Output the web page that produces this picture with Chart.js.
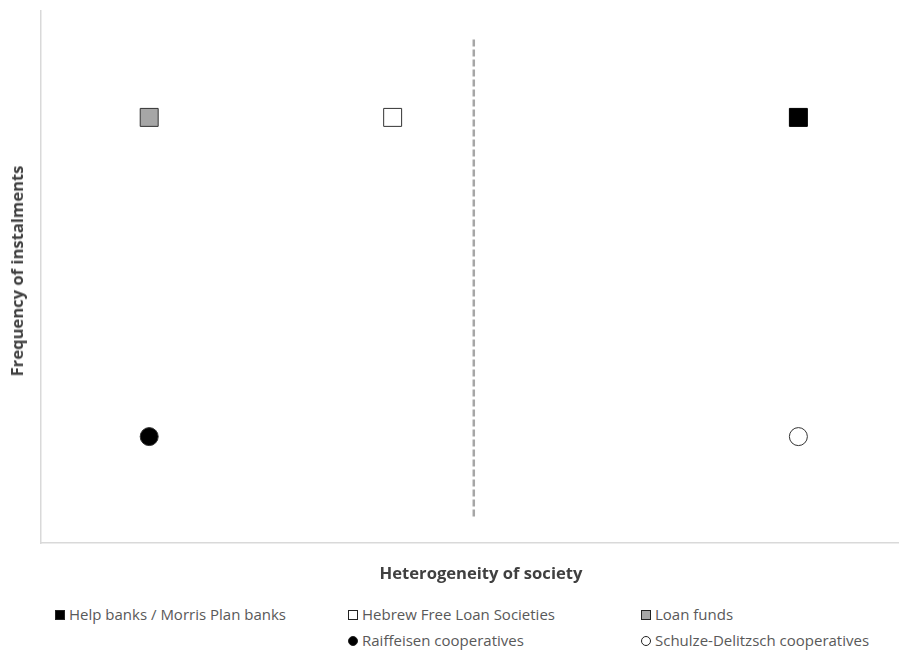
<!DOCTYPE html>
<html>
<head>
<meta charset="utf-8">
<script src="https://cdn.jsdelivr.net/npm/chart.js@4.4.1/dist/chart.umd.min.js"></script>
<style>
  html, body { margin: 0; padding: 0; background: #fff; }
  #wrap { position: relative; width: 899px; height: 651px; font-family: "Open Sans", sans-serif; color: #595959; }
  #chart { position: absolute; left: 0; top: 0; width: 899px; height: 590px; }
  .ttl { position: absolute; font-size: 16.6px; font-weight: bold; line-height: 20px; color: #404040; white-space: nowrap; }
  .lg { position: absolute; font-size: 15px; line-height: 18px; white-space: nowrap; }
  .mk { display: inline-block; width: 10px; height: 10px; margin-right: 4px; vertical-align: 0px; box-sizing: border-box; border: 1px solid #222; }
</style>
</head>
<body>
<div id="wrap">
  <div id="chart"><canvas id="c"></canvas></div>
  <div class="ttl" id="xt" style="left:481px; top:563px; transform: translateX(-50%);">Heterogeneity of society</div>
  <div class="ttl" id="yt" style="left:16.5px; top:271px; transform: translate(-50%,-50%) rotate(-90deg);">Frequency of instalments</div>
  <div class="lg" style="left:55px; top:605px;"><span class="mk" style="background:#000"></span>Help banks / Morris Plan banks</div>
  <div class="lg" style="left:348px; top:605px;"><span class="mk" style="background:#fff"></span>Hebrew Free Loan Societies</div>
  <div class="lg" style="left:641px; top:605px;"><span class="mk" style="background:#a6a6a6"></span>Loan funds</div>
  <div class="lg" style="left:348px; top:631px;"><span class="mk" style="background:#000;border-radius:50%"></span>Raiffeisen cooperatives</div>
  <div class="lg" style="left:641px; top:631px;"><span class="mk" style="background:#fff;border-radius:50%"></span>Schulze-Delitzsch cooperatives</div>
</div>
<script>
// categories and positions (arbitrary units, no ticks shown)
const seriesNames = ['Help banks / Morris Plan banks', 'Hebrew Free Loan Societies', 'Loan funds',
                     'Raiffeisen cooperatives', 'Schulze-Delitzsch cooperatives'];
const heterogeneity = [7, 3.25, 1, 1, 7];
const frequency = [8, 8, 8, 2, 2];
const dividerX = [4, 4];
const dividerY = [0.5, 9.5];

const styles = [
  { shape: 'rect', fill: '#000000' },
  { shape: 'rect', fill: '#ffffff' },
  { shape: 'rect', fill: '#a6a6a6' },
  { shape: 'circle', fill: '#000000' },
  { shape: 'circle', fill: '#ffffff' },
];

const datasets = seriesNames.map((name, i) => ({
  label: name,
  type: 'scatter',
  data: [{ x: heterogeneity[i], y: frequency[i] }],
  pointStyle: styles[i].shape,
  pointRadius: styles[i].shape === 'rect' ? 12.7 : 9,
  backgroundColor: styles[i].fill,
  borderColor: i === 0 ? '#000000' : '#333333',
  borderWidth: 1,
}));

datasets.push({
  label: 'divider',
  type: 'line',
  data: dividerX.map((x, i) => ({ x, y: dividerY[i] })),
  borderColor: '#a6a6a6',
  borderWidth: 2.5,
  borderDash: [7, 3],
  pointRadius: 0,
});

const axisBase = {
  type: 'linear',
  grid: { display: false, drawTicks: false },
  border: { color: '#d9d9d9', width: 1.5 },
  ticks: { display: false },
};

new Chart(document.getElementById('c'), {
  type: 'scatter',
  data: { datasets },
  options: {
    responsive: true,
    maintainAspectRatio: false,
    animation: false,
    layout: { autoPadding: false, padding: { top: 11, right: 0, left: 41, bottom: 47 } },
    plugins: { legend: { display: false }, tooltip: { enabled: false } },
    scales: {
      x: { ...axisBase, min: 0, max: 7.93 },
      y: { ...axisBase, min: 0, max: 10 },
    },
  },
});
</script>
</body>
</html>
